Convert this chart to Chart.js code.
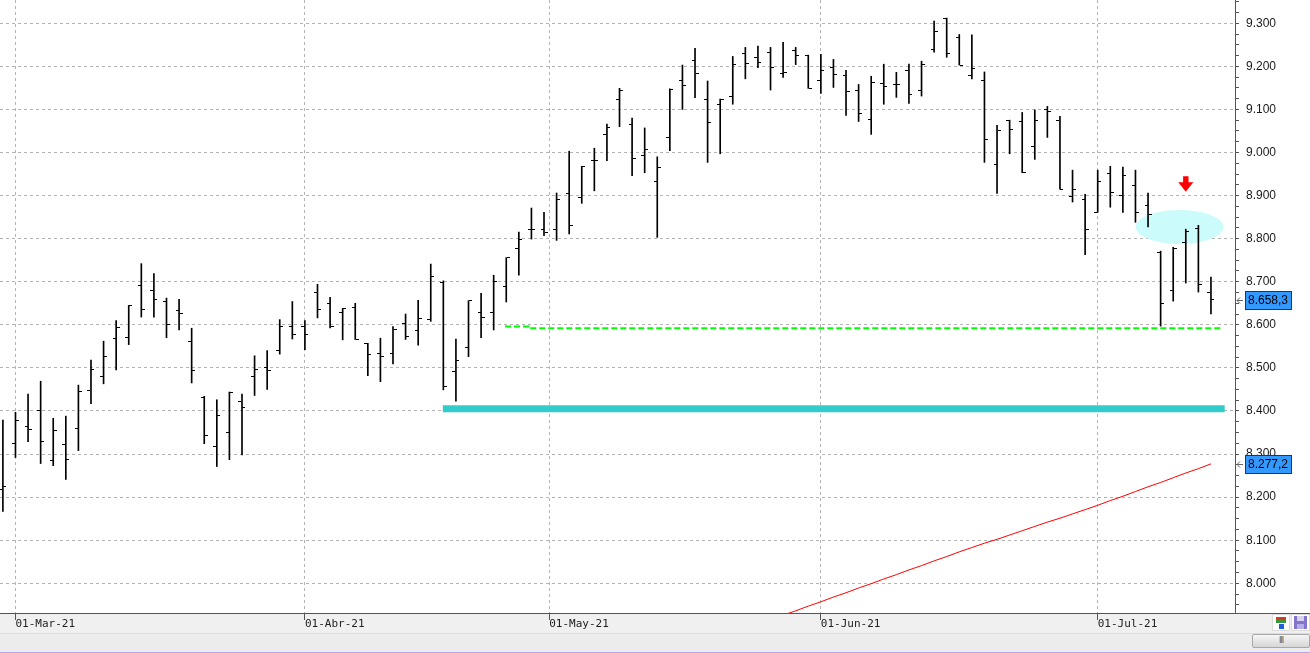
<!DOCTYPE html>
<html>
<head>
<meta charset="utf-8">
<title>IBEX 35 - diario</title>
<script src="https://cdn.jsdelivr.net/npm/chart.js@4.4.1/dist/chart.umd.min.js"></script>
<style>
    html, body { margin: 0; padding: 0; background: #fff; overflow: hidden; }
    #wrap { position: relative; width: 1310px; height: 653px; }
    #chartCanvas { position: absolute; left: 0; top: 0; }
    #scroll { position: absolute; left: 0; top: 633px; width: 1310px; height: 20px; box-sizing: border-box;
              background: #ececec; border-top: 1px solid #dcdcdc; border-bottom: 1px solid #b6a8ee; }
    #thumb { position: absolute; left: 1252px; top: 634px; width: 58px; height: 14px; box-sizing: border-box;
             border: 1px solid #a8a8a8; border-radius: 2px; background: linear-gradient(#f6f6f6, #d6d6d6);
             font: 8px 'DejaVu Sans', sans-serif; color: #555; text-align: center; line-height: 12px; letter-spacing: -1px; }
    .icon { position: absolute; top: 614px; height: 17px; box-sizing: border-box; background: #fff; border: 1px solid #dcdcdc; }
    #icoA { left: 1272px; width: 18px; }
    #icoB { left: 1291px; width: 19px; }
</style>
</head>
<body>
<div id="wrap">
    <canvas id="chartCanvas" width="1310" height="633"></canvas>
    <div id="scroll"></div>
    <div id="thumb">III</div>
    <div class="icon" id="icoA">
        <div style="position:absolute;left:3px;top:2px;width:10px;height:3px;background:#d23a2a"></div>
        <div style="position:absolute;left:3px;top:5px;width:10px;height:3px;background:#3a9a3a"></div>
        <div style="position:absolute;left:6px;top:9px;width:5px;height:5px;background:#1e5fe0"></div>
    </div>
    <div class="icon" id="icoB">
        <div style="position:absolute;left:2px;top:1px;width:13px;height:13px;background:#8474cc"></div>
        <div style="position:absolute;left:5px;top:1px;width:7px;height:5px;background:#d8d2f2"></div>
        <div style="position:absolute;left:5px;top:9px;width:7px;height:5px;background:#b7acea"></div>
    </div>
</div>
<script>
// trading days shown (first bar is 26/02/2021)
const days = [
    '26/02',
    '01/03', '02/03', '03/03', '04/03', '05/03', '08/03', '09/03', '10/03', '11/03', '12/03',
    '15/03', '16/03', '17/03', '18/03', '19/03', '22/03', '23/03', '24/03', '25/03', '26/03',
    '29/03', '30/03', '31/03',
    '01/04', '06/04', '07/04', '08/04', '09/04', '12/04', '13/04', '14/04', '15/04', '16/04',
    '19/04', '20/04', '21/04', '22/04', '23/04', '26/04', '27/04', '28/04', '29/04', '30/04',
    '03/05', '04/05', '05/05', '06/05', '07/05', '10/05', '11/05', '12/05', '13/05', '14/05',
    '17/05', '18/05', '19/05', '20/05', '21/05', '24/05', '25/05', '26/05', '27/05', '28/05', '31/05',
    '01/06', '02/06', '03/06', '04/06', '07/06', '08/06', '09/06', '10/06', '11/06',
    '14/06', '15/06', '16/06', '17/06', '18/06', '21/06', '22/06', '23/06', '24/06', '25/06',
    '28/06', '29/06', '30/06',
    '01/07', '02/07', '05/07', '06/07', '07/07', '08/07', '09/07', '12/07', '13/07', '14/07'
];

const openP = [
    8218, 8325, 8363, 8400, 8285, 8322, 8360, 8448, 8480, 8568, 8571, 8691, 8680, 8654, 8634, 8561,
    8431, 8317, 8351, 8421, 8481, 8501, 8541, 8595, 8596, 8675, 8650, 8628, 8640, 8557, 8533, 8533,
    8603, 8587, 8613, 8698, 8491, 8547, 8628, 8628, 8689, 8777, 8821, 8821, 8821, 8905, 8896, 8981,
    9042, 9122, 9066, 8992, 8933, 9035, 9168, 9214, 9122, 9112, 9131, 9230, 9221, 9233, 9184, 9237,
    9226, 9168, 9198, 9179, 9145, 9077, 9161, 9158, 9191, 9145, 9240, 9312, 9268, 9179, 9168, 8971,
    9075, 9073, 9015, 9100, 9075, 8899, 8892, 8861, 8952, 8901, 8924, 8878, 8769, 8680, 8792, 8824,
    8674
];
const highP = [
    8379, 8397, 8439, 8469, 8383, 8388, 8460, 8518, 8562, 8610, 8645, 8742, 8719, 8662, 8659, 8592,
    8434, 8426, 8444, 8439, 8528, 8540, 8612, 8654, 8610, 8694, 8664, 8638, 8650, 8557, 8569, 8596,
    8625, 8657, 8741, 8702, 8567, 8656, 8673, 8715, 8756, 8815, 8871, 8861, 8906, 9003, 8968, 9010,
    9066, 9149, 9080, 9057, 8990, 9148, 9203, 9242, 9166, 9124, 9223, 9244, 9247, 9244, 9256, 9244,
    9226, 9228, 9216, 9191, 9158, 9177, 9205, 9186, 9205, 9212, 9305, 9312, 9274, 9273, 9187, 9063,
    9075, 9093, 9099, 9107, 9084, 8959, 8903, 8959, 8968, 8966, 8959, 8906, 8771, 8780, 8822, 8831,
    8711
];
const lowP = [
    8167, 8292, 8329, 8278, 8273, 8241, 8308, 8417, 8463, 8495, 8554, 8618, 8618, 8570, 8588, 8465,
    8324, 8271, 8287, 8298, 8436, 8450, 8532, 8567, 8542, 8616, 8593, 8565, 8566, 8482, 8468, 8509,
    8566, 8553, 8608, 8449, 8423, 8526, 8570, 8588, 8653, 8715, 8799, 8807, 8796, 8811, 8882, 8911,
    8981, 9060, 8946, 8953, 8803, 9004, 9100, 9127, 8977, 8997, 9112, 9171, 9197, 9145, 9174, 9204,
    9149, 9137, 9151, 9086, 9072, 9042, 9112, 9128, 9114, 9131, 9233, 9221, 9203, 9171, 8977, 8905,
    8997, 8953, 8984, 9035, 8915, 8885, 8763, 8861, 8873, 8861, 8838, 8827, 8597, 8655, 8697, 8676,
    8625
];
const closeP = [
    8225, 8379, 8357, 8329, 8355, 8288, 8446, 8496, 8526, 8594, 8644, 8635, 8659, 8600, 8626, 8494,
    8343, 8390, 8444, 8409, 8497, 8493, 8596, 8578, 8577, 8635, 8597, 8637, 8566, 8532, 8526, 8589,
    8573, 8614, 8711, 8457, 8518, 8656, 8617, 8700, 8756, 8798, 8821, 8814, 8892, 8830, 8968, 8981,
    9058, 9145, 8987, 9008, 8966, 9147, 9156, 9184, 9070, 9124, 9205, 9207, 9210, 9198, 9186, 9226,
    9149, 9191, 9182, 9142, 9090, 9163, 9154, 9157, 9135, 9205, 9281, 9230, 9203, 9196, 9031, 9052,
    9054, 8953, 9075, 9096, 8915, 8915, 8822, 8933, 8908, 8947, 8861, 8855, 8650, 8776, 8817, 8694,
    8658.3
];

// 200 session moving average, only the visible tail (starts at bar 62)
const maStart = 62;
const ma200 = [
    7926, 7936, 7947, 7957, 7968, 7978, 7989, 7999, 8010, 8020, 8031, 8041, 8052, 8062, 8073,
    8083, 8093, 8102, 8112, 8122, 8132, 8142, 8151, 8161, 8171, 8181, 8192, 8202, 8213, 8224,
    8234, 8245, 8256, 8266, 8277.2
];

// hand drawn levels (x in bar index)
const supportX = [39.9, 41.8, 96.97];
const supportY = [8596, 8592, 8592];
const zoneX = [34.96, 97.09];
const zoneY = [8405, 8405];
const zoneMark = { x: 93.5, y: 8827 };   // light blue ellipse
const arrowMark = { x: 94, y: 8909 };    // red arrow tip

const xTickPos = [1, 24, 43.41, 65, 87];
const xTickLabels = ['01-Mar-21', '01-Abr-21', '01-May-21', '01-Jun-21', '01-Jul-21'];
const yTicks = [8000, 8100, 8200, 8300, 8400, 8500, 8600, 8700, 8800, 8900, 9000, 9100, 9200, 9300];

function fmtThousands(v) {
    return Math.floor(v / 1000) + '.' + String(Math.round(v % 1000)).padStart(3, '0');
}

function fmtPrice(v) {
    const whole = Math.floor(v);
    const dec = Math.round((v - whole) * 10);
    return fmtThousands(whole) + ',' + dec;
}

// little horizontal tick used as point style: left = open, right = close
function tickMark(side) {
    const c = document.createElement('canvas');
    c.width = 9;
    c.height = 1;
    const g = c.getContext('2d');
    g.fillStyle = '#000';
    if (side === 'left') {
        g.fillRect(1, 0, 3, 1);
    } else {
        g.fillRect(5, 0, 3, 1);
    }
    return c;
}

const backdrop = {
    id: 'backdrop',
    beforeDraw(chart) {
        const g = chart.ctx;
        g.save();
        g.fillStyle = '#f0f0f0';
        g.fillRect(0, 0, chart.width, chart.height);
        g.fillStyle = '#fff';
        g.fillRect(0, 0, chart.width, chart.chartArea.bottom);
        g.restore();
    },
    afterDraw(chart) {
        // axis line runs under the price scale too
        const g = chart.ctx;
        const yb = Math.round(chart.chartArea.bottom) + 0.5;
        g.save();
        g.strokeStyle = '#555';
        g.lineWidth = 1;
        g.beginPath();
        g.moveTo(chart.chartArea.right, yb);
        g.lineTo(chart.width, yb);
        g.stroke();
        g.restore();
    }
};

const marks = {
    id: 'marks',
    beforeDatasetsDraw(chart) {
        const g = chart.ctx;
        const sx = chart.scales.x, sy = chart.scales.y;
        g.save();
        g.fillStyle = '#ccfbfb';
        g.beginPath();
        g.ellipse(sx.getPixelForValue(zoneMark.x), sy.getPixelForValue(zoneMark.y), 44, 17, 0, 0, Math.PI * 2);
        g.fill();
        g.restore();
        // keep the open/close ticks sharp
        g.imageSmoothingEnabled = false;
    },
    afterDatasetsDraw(chart) {
        const g = chart.ctx;
        g.imageSmoothingEnabled = true;
        const sx = chart.scales.x, sy = chart.scales.y;
        const tx = sx.getPixelForValue(arrowMark.x);
        const ty = sy.getPixelForValue(arrowMark.y);
        g.save();
        g.fillStyle = '#ff0000';
        g.beginPath();
        g.moveTo(tx, ty);
        g.lineTo(tx - 7.5, ty - 9.5);
        g.lineTo(tx - 2.7, ty - 9.5);
        g.lineTo(tx - 2.7, ty - 15.5);
        g.lineTo(tx + 2.7, ty - 15.5);
        g.lineTo(tx + 2.7, ty - 9.5);
        g.lineTo(tx + 7.5, ty - 9.5);
        g.closePath();
        g.fill();
        g.restore();
    },
    afterDraw(chart) {
        const g = chart.ctx;
        const sy = chart.scales.y;
        const x0 = chart.chartArea.right;
        const tags = [closeP[closeP.length - 1], ma200[ma200.length - 1]];
        g.save();
        tags.forEach(v => {
            const y = Math.round(sy.getPixelForValue(v));
            // small pointer
            g.strokeStyle = '#666';
            g.lineWidth = 1;
            g.beginPath();
            g.moveTo(x0 + 8, y + 0.5);
            g.lineTo(x0 + 2, y + 0.5);
            g.moveTo(x0 + 5, y - 2.5);
            g.lineTo(x0 + 2, y + 0.5);
            g.lineTo(x0 + 5, y + 3.5);
            g.stroke();
            // box
            g.fillStyle = '#3399ff';
            g.fillRect(x0 + 10.5, y - 8.5, 46, 18);
            g.strokeStyle = '#333';
            g.strokeRect(x0 + 10.5, y - 8.5, 46, 18);
            g.fillStyle = '#000';
            g.font = '12px "Liberation Sans", Arial, sans-serif';
            g.textBaseline = 'middle';
            g.textAlign = 'left';
            g.fillText(fmtPrice(v), x0 + 13, y + 1);
        });
        g.restore();
    }
};

const chart = new Chart(document.getElementById('chartCanvas'), {
    type: 'scatter',
    data: {
        datasets: [
            {
                type: 'bar',
                label: 'Rango',
                data: days.map((d, i) => ({ x: i, y: [lowP[i], highP[i]] })),
                backgroundColor: '#000',
                borderWidth: 0,
                barThickness: 1,
                order: 0
            },
            {
                type: 'scatter',
                label: 'Apertura',
                data: days.map((d, i) => ({ x: i, y: openP[i] })),
                pointStyle: tickMark('left'),
                order: 0
            },
            {
                type: 'scatter',
                label: 'Cierre',
                data: days.map((d, i) => ({ x: i, y: closeP[i] })),
                pointStyle: tickMark('right'),
                order: 0
            },
            {
                type: 'line',
                label: 'MM200',
                data: ma200.map((v, k) => ({ x: maStart + k, y: v })),
                borderColor: '#ff0000',
                borderWidth: 1,
                pointRadius: 0,
                order: 1
            },
            {
                type: 'line',
                label: 'Soporte',
                data: supportX.map((x, k) => ({ x: x, y: supportY[k] })),
                borderColor: '#00ff00',
                borderWidth: 2,
                borderDash: [6, 3],
                stepped: 'before',
                pointRadius: 0,
                order: 2
            },
            {
                type: 'line',
                label: 'Zona',
                data: zoneX.map((x, k) => ({ x: x, y: zoneY[k] })),
                borderColor: '#33cccc',
                borderWidth: 7,
                pointRadius: 0,
                order: 3
            }
        ]
    },
    options: {
        responsive: false,
        animation: false,
        events: [],
        layout: { padding: 0, autoPadding: false },
        plugins: {
            legend: { display: false },
            tooltip: { enabled: false },
            title: { display: false }
        },
        scales: {
            x: {
                type: 'linear',
                position: 'bottom',
                min: -0.23,
                max: 97.91,
                offset: false,
                grid: {
                    offset: false,
                    color: '#b4b4b4',
                    lineWidth: 1,
                    tickLength: 7,
                    tickColor: '#555',
                    tickBorderDash: []
                },
                border: { display: true, color: '#555', width: 1, dash: [3, 3] },
                ticks: {
                    autoSkip: false,
                    maxRotation: 0,
                    minRotation: 0,
                    align: 'start',
                    padding: -2,
                    color: '#222',
                    font: { family: '"DejaVu Sans Mono", monospace', size: 11 },
                    callback: (v, i) => xTickLabels[i]
                },
                afterBuildTicks: s => { s.ticks = xTickPos.map(v => ({ value: v })); },
                afterFit: s => { s.height = 20; s.paddingLeft = 0; s.paddingRight = 0; }
            },
            y: {
                type: 'linear',
                position: 'right',
                min: 7931,
                max: 9354,
                grid: {
                    color: c => (c.tick && yTicks.includes(c.tick.value)) ? '#b4b4b4' : 'rgba(0,0,0,0)',
                    lineWidth: 1,
                    tickLength: 4,
                    tickColor: '#555',
                    tickBorderDash: []
                },
                border: { display: true, color: '#555', width: 1, dash: [3, 3] },
                ticks: {
                    autoSkip: false,
                    padding: 7,
                    color: '#1a1a1a',
                    font: { family: '"Liberation Sans", Arial, sans-serif', size: 12 },
                    callback: v => yTicks.includes(v) ? fmtThousands(v) : ''
                },
                afterBuildTicks: s => {
                    // labelled every 100, small marks every 25
                    const t = [];
                    for (let v = 7950; v <= 9350; v += 25) t.push({ value: v });
                    s.ticks = t;
                },
                afterFit: s => { s.width = 75; s.paddingTop = 0; s.paddingBottom = 0; }
            }
        }
    },
    plugins: [backdrop, marks]
});
</script>
</body>
</html>
